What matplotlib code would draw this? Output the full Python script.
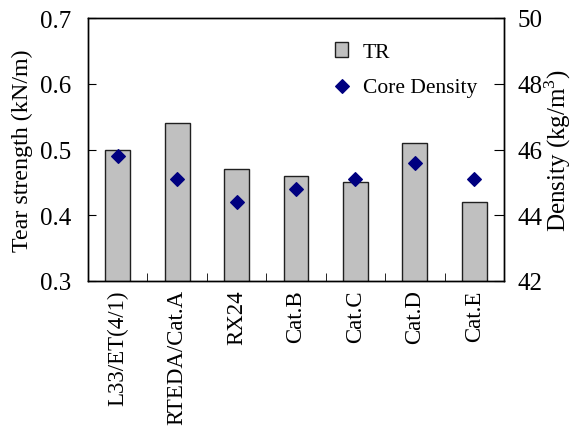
import numpy as np
import matplotlib.pyplot as plt

plt.rcParams['font.family'] = ['Liberation Serif', 'DejaVu Serif']
plt.rcParams['mathtext.fontset'] = 'custom'
plt.rcParams['mathtext.rm'] = 'Liberation Serif'

# data
samples = ['L33/ET(4/1)', 'RTEDA/Cat.A', 'RX24', 'Cat.B', 'Cat.C', 'Cat.D', 'Cat.E']
tear = [0.50, 0.54, 0.47, 0.46, 0.45, 0.51, 0.42]
density = [45.8, 45.1, 44.4, 44.8, 45.1, 45.6, 45.1]

x = np.arange(len(samples))

fig = plt.figure(figsize=(5.74, 4.31), dpi=100)
ax = fig.add_axes([88/574, 1-282/431, (504-88)/574, (282-19)/431])
bars = ax.bar(x, tear, width=0.42, color='#C0C0C0', edgecolor='#202020', linewidth=1.0, label='TR', zorder=2)
ax.set_ylim(0.3, 0.7)
ax.set_xlim(-0.5, len(samples) - 0.5)
ax.set_yticks([0.3, 0.4, 0.5, 0.6, 0.7])
ax.set_ylabel('Tear strength (kN/m)', fontsize=17.3, labelpad=5)
ax.tick_params(axis='y', direction='in', length=6, labelsize=18, pad=12)
ax.set_xticks(x)
ax.set_xticklabels(samples, rotation=90, fontsize=16.5)
ax.tick_params(axis='x', length=0, pad=6)
ax.set_xticks(x[:-1] + 0.5, minor=True)
ax.tick_params(axis='x', which='minor', direction='in', length=6)

ax2 = ax.twinx()
pts = ax2.scatter(x, density, marker='D', s=48, color='#000080', label='Core Density', zorder=3)
ax2.set_ylim(42, 50)
ax2.set_yticks([42, 44, 46, 48, 50])
ax2.set_ylabel('Density (kg/m$^3$)', fontsize=18, labelpad=0)
ax2.tick_params(axis='y', direction='in', length=7, labelsize=18, pad=10)

for a in (ax, ax2):
    for s in a.spines.values():
        s.set_linewidth(1.0)
        s.set_color('black')

ax2.legend([bars, pts], ['TR', 'Core Density'], loc='upper left', bbox_to_anchor=(0.568, 0.95),
           frameon=False, fontsize=15.5, borderpad=0, handlelength=0.6, handletextpad=0.7,
           labelspacing=0.7)

fig.savefig('out.png', dpi=100)
